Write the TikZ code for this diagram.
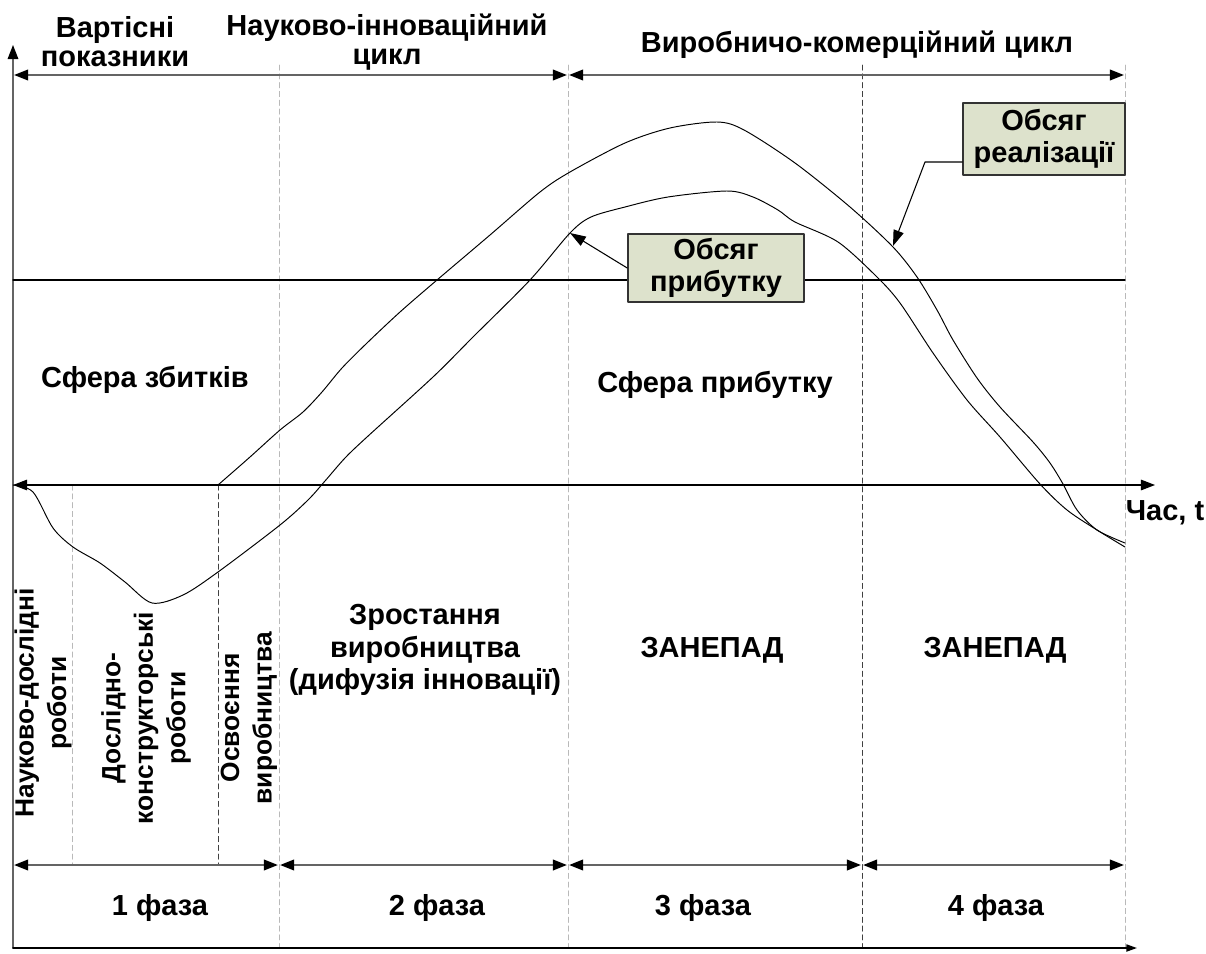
\documentclass[tikz,border=0pt]{standalone}
\usepackage{fontspec}
\setmainfont{Liberation Sans}
\usetikzlibrary{arrows.meta,positioning}
\definecolor{boxfill}{RGB}{221,226,204}
\definecolor{dimgray}{RGB}{100,100,100}
\tikzset{
	dimline/.style={dimgray, line width=1.2pt, {Triangle[length=8pt,width=6pt,black]}-{Triangle[length=8pt,width=6pt,black]}, shorten <=0.6pt, shorten >=0.6pt},
	lightdash/.style={gray!55, thin, dash pattern=on 3pt off 2pt},
	darkdash/.style={black!75, thin, dash pattern=on 3pt off 2pt},
	labelbox/.style={draw=black!80, line width=0.9pt, fill=boxfill, align=center, inner sep=0pt},
	vlabel/.style={align=center, rotate=90, font=\bfseries\fontsize{15}{18.5}\selectfont},
	curve/.style={black, line width=0.55pt, smooth, tension=0.5}
}
\begin{document}
\begin{tikzpicture}[x=0.02cm, y=-0.02cm, font=\bfseries\fontsize{16.5}{18.5}\selectfont, line join=round, line cap=round, >={Triangle[length=8pt,width=6pt]}]
	% Параметри
	\def\xo{13}
	\def\ta{485}
	\def\tp{280}
	\def\ya{75}
	\def\yb{865}
	\def\yc{948}
	\useasboundingbox (0,0) rectangle (1206,953);
	% Точки осей
	\coordinate (O) at (\xo,\yc);
	\coordinate (Y) at (\xo,45);
	\coordinate (X) at (1137,\yc);
	\coordinate (T0) at (\xo,\ta);
	\coordinate (T1) at (1155,\ta);
	\coordinate (P0) at (\xo,\tp);
	\coordinate (P1) at (1125,\tp);
	% Пунктирні лінії
	\foreach \x in {279,568,1125}
	\draw[lightdash] (\x,65) -- (\x,\yc);
	\draw[darkdash] (862,65) -- (862,\yc);
	\draw[lightdash] (72,\ta) -- (72,\yb);
	\draw[darkdash] (218,\ta) -- (218,\yb);
	% Осі
	\draw[dimgray, line width=0.9pt, -{Triangle[length=8pt,width=6pt,black]}] (O) -- (Y);
	\draw[black, line width=0.9pt, -{Triangle[length=6pt,width=4pt]}] (O) -- (X);
	\draw[black, line width=0.7pt, <->] (T0) -- (T1);
	\draw[black, line width=0.6pt] (P0) -- (P1);
	% Стрілки циклів і фаз
	\foreach \x [count=\i] in {13,568,1125}
	\coordinate (C\i) at (\x,\ya);
	\foreach \i/\j in {1/2,2/3}
	\draw[dimline] (C\i) -- (C\j);
	\foreach \x [count=\i] in {13,279,568,862,1125}
	\coordinate (F\i) at (\x,\yb);
	\foreach \i/\j in {1/2,2/3,3/4,4/5}
	\draw[dimline] (F\i) -- (F\j);
	% Крива прибутку
	\draw[curve] plot coordinates {(13,485) (33,492) (53,528) (73,547) (100,563) (125,582) (152,603) (183,595) (218,572) (280,525) (308,500) (325,481) (345,458) (367,437) (433,377) (473,337) (530,280) (570,233) (591,217) (625,207) (668,197) (727,191) (753,197) (778,210) (795,222) (838,242) (877,277) (900,303) (933,353) (967,400) (1000,437) (1040,484) (1067,510) (1097,530) (1125,547)};
	% Крива реалізації
	\draw[curve] plot coordinates {(218,485) (250,457) (280,430) (303,412) (322,392) (342,368) (367,343) (400,312) (437,280) (490,235) (540,192) (570,172) (625,143) (670,128) (717,122) (744,130) (795,163) (850,207) (893,247) (917,277) (937,310) (953,340) (977,378) (1000,407) (1033,442) (1050,463) (1063,484) (1077,510) (1097,530) (1125,543)};
	% Підписи кривих
	\node[labelbox, minimum width=162*0.02cm, minimum height=72*0.02cm] (rz) at (1044,139) {Обсяг\\реалізації};
	\node[labelbox, minimum width=176*0.02cm, minimum height=68*0.02cm] (pr) at (716,268) {Обсяг\\прибутку};
	\coordinate (rzk) at (925,162);
	\coordinate (rzt) at (893,246);
	\coordinate (prt) at (570,233);
	\draw[black, line width=0.6pt, -{Triangle[length=9pt,width=6pt]}] (rz.west |- rzk) -- (rzk) -- (rzt);
	\draw[black, line width=0.6pt, -{Triangle[length=9pt,width=6pt]}] (pr.west) -- (prt);
	% Написи
	\node[align=center, font=\bfseries\fontsize{16.5}{16.5}\selectfont] (vp) at (115,42) {Вартісні\\показники};
	\node[align=center, font=\bfseries\fontsize{16.5}{16.5}\selectfont] (nic) at (387,42) {Науково-інноваційний\\цикл};
	\node (vkc) at (857,45) {Виробничо-комерційний цикл};
	\node (sz) at (145,380) {Сфера збитків};
	\node (sp) at (715,385) {Сфера прибутку};
	\node (chas) at (1165,513) {Час, t};
	\node[align=center] (zv) at (425,650) {Зростання\\виробництва\\(дифузія інновації)};
	\node (zn1) at (712,650) {ЗАНЕПАД};
	\node (zn2) at (995,650) {ЗАНЕПАД};
	\node[vlabel] (ndr) at (43,703) {Науково-дослідні\\роботи};
	\node[vlabel] (dkr) at (146,718) {Дослідно-\\конструкторські\\роботи};
	\node[vlabel] (ov) at (249,718) {Освоєння\\виробництва};
	\foreach \x/\n in {160/1,437/2,703/3,996/4}
	\node (ph\n) at (\x,908) {\n{} фаза};
\end{tikzpicture}
\end{document}
